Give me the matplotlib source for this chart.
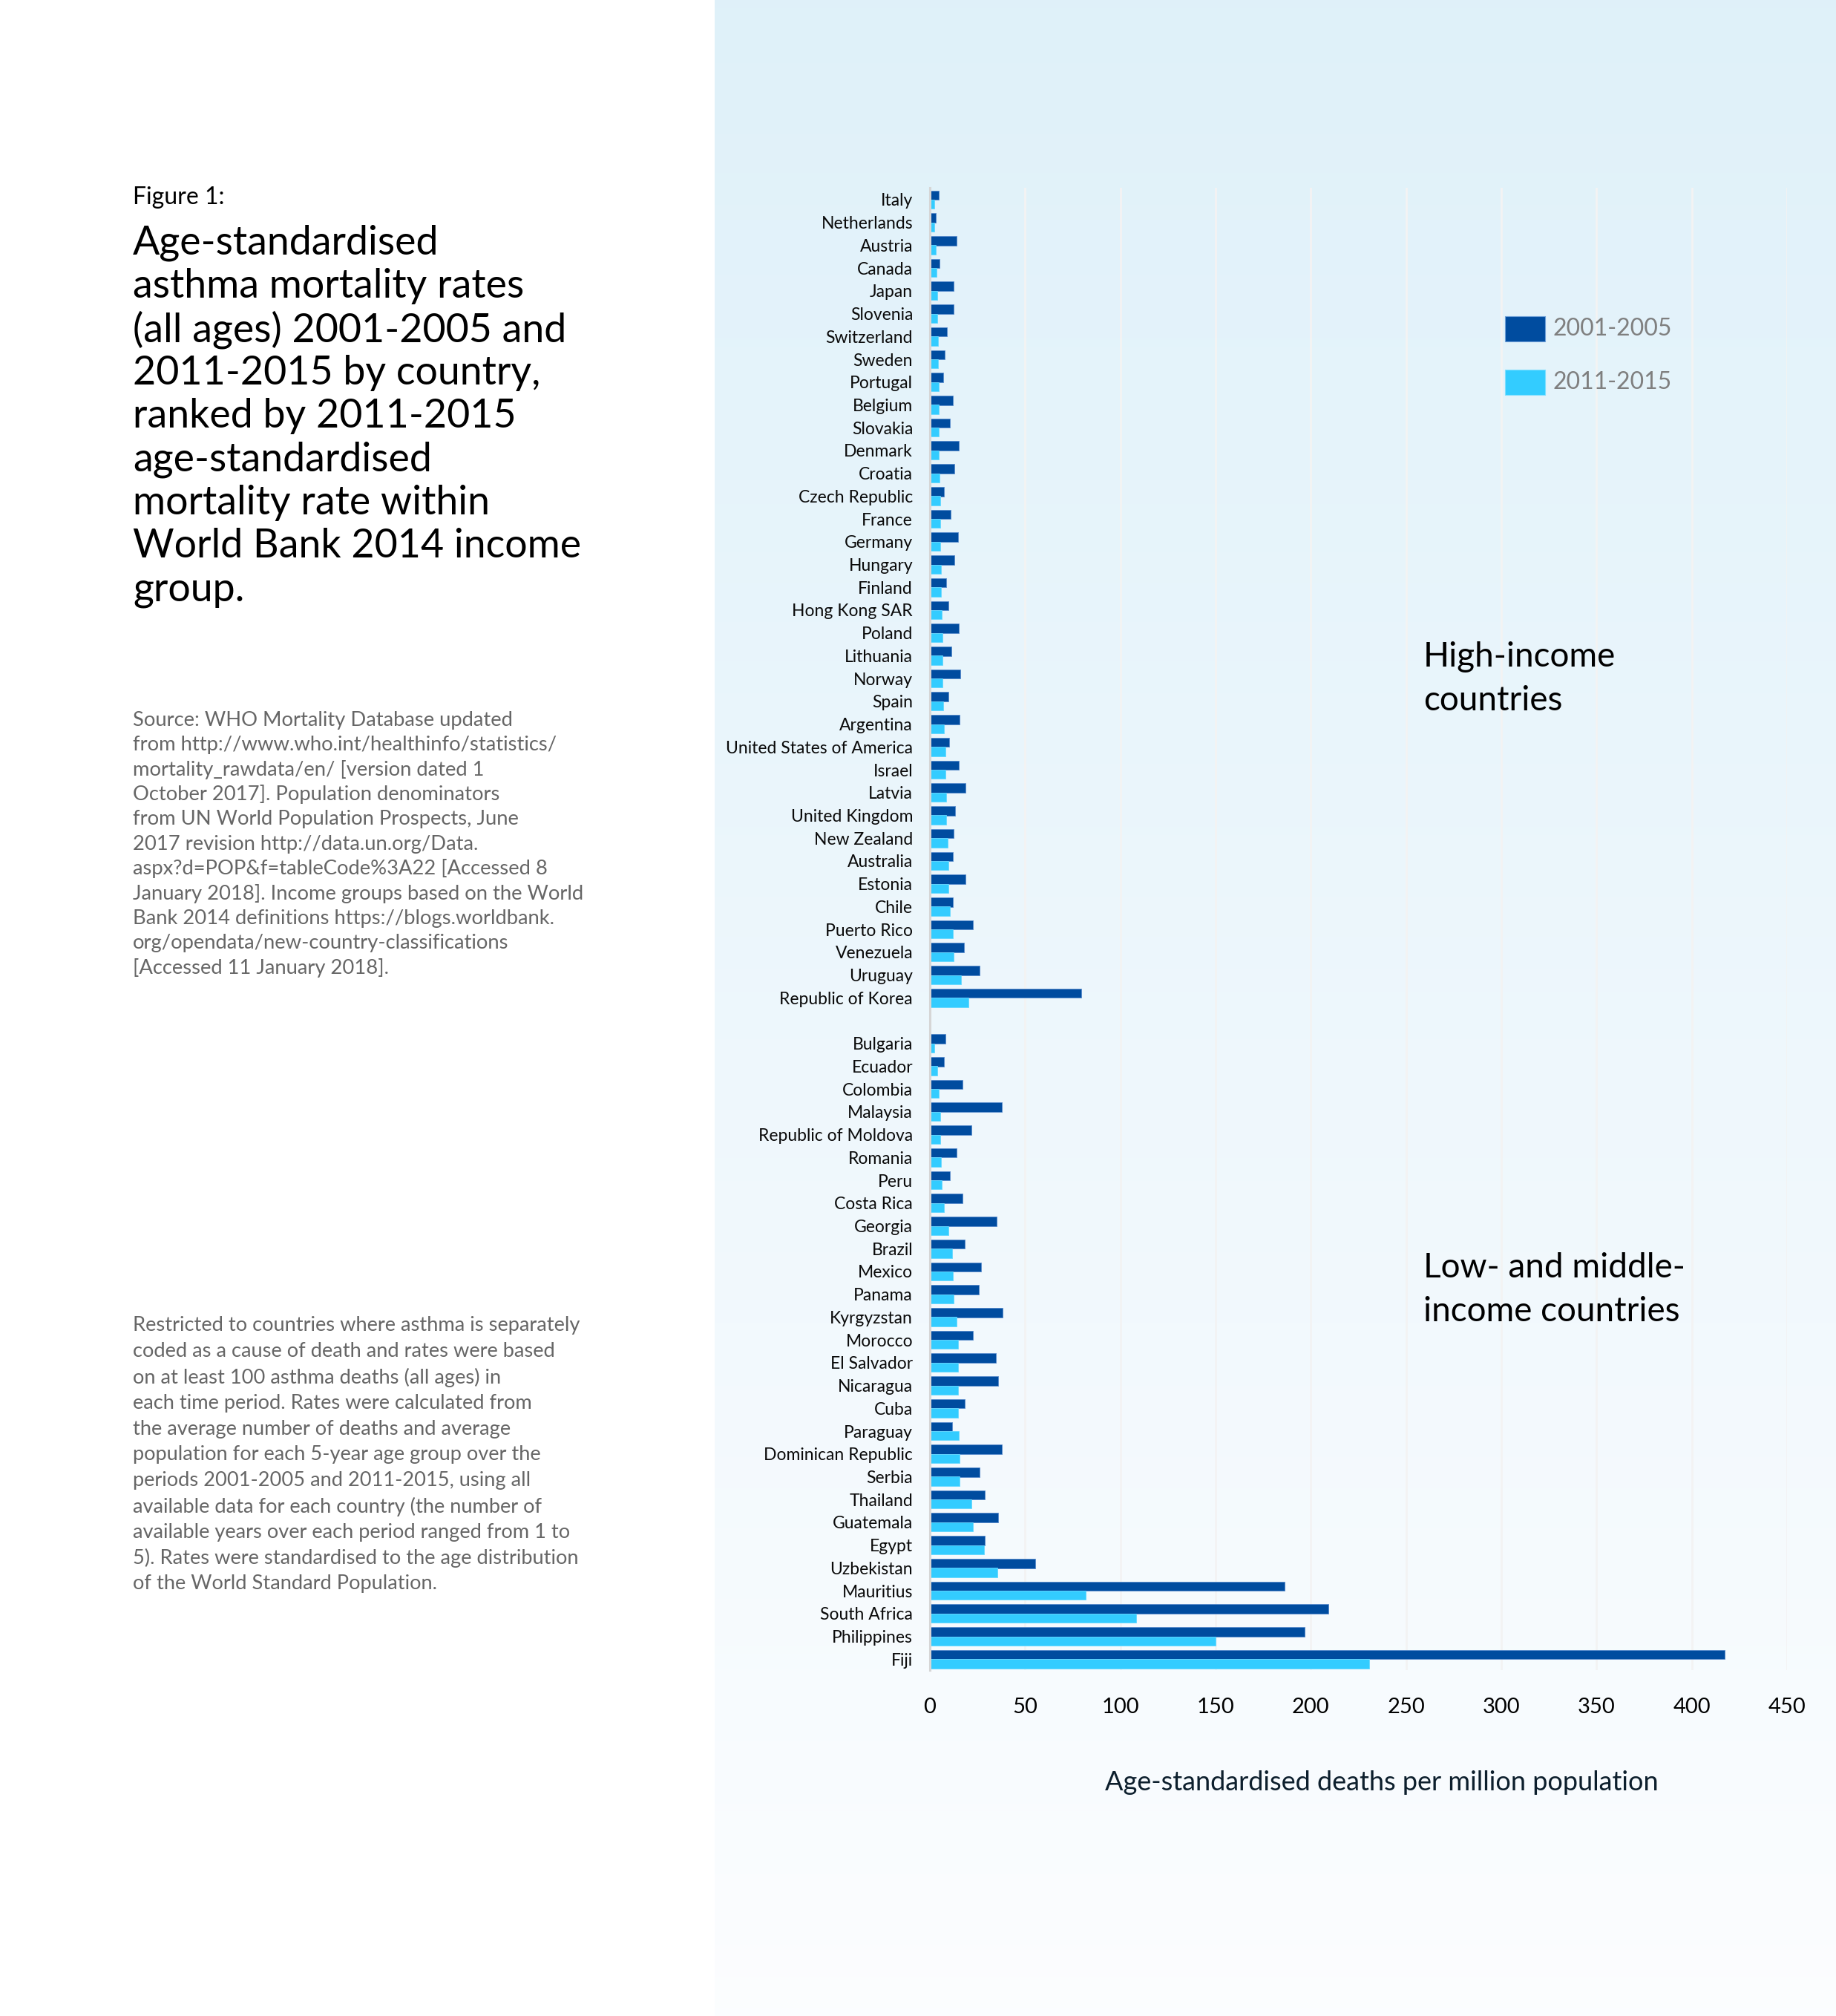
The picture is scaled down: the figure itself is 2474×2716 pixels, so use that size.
import numpy as np
import matplotlib.pyplot as plt

W, H = 2474, 2716

# ---- data ----
high_countries = ['Italy', 'Netherlands', 'Austria', 'Canada', 'Japan', 'Slovenia',
                  'Switzerland', 'Sweden', 'Portugal', 'Belgium', 'Slovakia', 'Denmark',
                  'Croatia', 'Czech Republic', 'France', 'Germany', 'Hungary', 'Finland',
                  'Hong Kong SAR', 'Poland', 'Lithuania', 'Norway', 'Spain', 'Argentina',
                  'United States of America', 'Israel', 'Latvia', 'United Kingdom',
                  'New Zealand', 'Australia', 'Estonia', 'Chile', 'Puerto Rico',
                  'Venezuela', 'Uruguay', 'Republic of Korea']
high_2001 = [4.8, 3.2, 13.9, 5.2, 12.3, 12.5, 8.8, 7.8, 7.1, 12.2, 10.6, 15.1,
             12.7, 7.4, 11.0, 14.9, 12.7, 8.7, 9.6, 15.2, 11.2, 15.8, 9.6, 15.6,
             10.3, 15.1, 18.8, 13.2, 12.5, 12.2, 18.6, 11.9, 22.7, 17.8, 26.0, 79.6]
high_2011 = [2.2, 2.5, 3.2, 3.4, 3.8, 4.0, 4.2, 4.3, 4.5, 4.8, 4.8, 4.8,
             5.2, 5.3, 5.5, 5.6, 5.7, 5.8, 6.1, 6.5, 6.6, 6.6, 7.0, 7.5,
             8.1, 8.3, 8.6, 8.6, 9.2, 9.6, 9.9, 10.4, 12.1, 12.5, 16.4, 20.1]

low_countries = ['Bulgaria', 'Ecuador', 'Colombia', 'Malaysia', 'Republic of Moldova',
                 'Romania', 'Peru', 'Costa Rica', 'Georgia', 'Brazil', 'Mexico', 'Panama',
                 'Kyrgyzstan', 'Morocco', 'El Salvador', 'Nicaragua', 'Cuba', 'Paraguay',
                 'Dominican Republic', 'Serbia', 'Thailand', 'Guatemala', 'Egypt',
                 'Uzbekistan', 'Mauritius', 'South Africa', 'Philippines', 'Fiji']
low_2001 = [8.1, 7.5, 17.3, 37.8, 21.8, 14.2, 10.5, 17.0, 34.9, 18.4, 27.0, 25.8,
            38.2, 22.7, 34.8, 35.8, 18.3, 11.6, 37.7, 26.2, 28.7, 35.8, 29.0,
            55.4, 186.2, 209.3, 196.7, 417.4]
low_2011 = [2.2, 4.0, 4.7, 5.6, 5.6, 6.0, 6.1, 7.5, 9.6, 11.7, 12.1, 12.5,
            13.9, 14.7, 14.7, 14.9, 14.9, 15.2, 15.7, 15.7, 21.8, 22.5, 28.4,
            35.6, 82.0, 108.4, 150.0, 230.5]

series_names = ['2001-2005', '2011-2015']
xticks = [0, 50, 100, 150, 200, 250, 300, 350, 400, 450]

title_lines = ['Age-standardised', 'asthma mortality rates', '(all ages) 2001-2005 and',
               '2011-2015 by country,', 'ranked by 2011-2015', 'age-standardised',
               'mortality rate within', 'World Bank 2014 income', 'group.']
source_lines = ['Source: WHO Mortality Database updated',
                'from http://www.who.int/healthinfo/statistics/',
                'mortality_rawdata/en/ [version dated 1',
                'October 2017]. Population denominators',
                'from UN World Population Prospects, June',
                '2017 revision http://data.un.org/Data.',
                'aspx?d=POP&f=tableCode%3A22 [Accessed 8',
                'January 2018]. Income groups based on the World',
                'Bank 2014 definitions https://blogs.worldbank.',
                'org/opendata/new-country-classifications',
                '[Accessed 11 January 2018].']
note_lines = ['Restricted to countries where asthma is separately',
              'coded as a cause of death and rates were based',
              'on at least 100 asthma deaths (all ages) in',
              'each time period. Rates were calculated from',
              'the average number of deaths and average',
              'population for each 5-year age group over the',
              'periods 2001-2005 and 2011-2015, using all',
              'available data for each country (the number of',
              'available years over each period ranged from 1 to',
              '5). Rates were standardised to the age distribution',
              'of the World Standard Population.']

DARK = '#004c9f'
LIGHT = '#33ccff'
FONT = 'Lato'
plt.rcParams['font.family'] = [FONT, 'DejaVu Sans']


def fx(px):
    return px / W


def fy(py):
    return 1 - py / H


fig = plt.figure(figsize=(W / 100, H / 100), dpi=100)
fig.patch.set_facecolor('white')

# gradient panel on the right
bg = fig.add_axes([fx(963), 0, 1 - fx(963), 1])
top = np.array([0.875, 0.945, 0.978])
bot = np.array([0.988, 0.993, 1.0])
t = np.linspace(0, 1, 256)[:, None]
grad = top[None, :] * (1 - t) + bot[None, :] * t
bg.imshow(grad[:, None, :], aspect='auto', extent=[0, 1, 0, 1])
bg.set_axis_off()

# ---- chart ----
ax = fig.add_axes([fx(1253), fy(2250), fx(2408 - 1253), (2250 - 253) / H])
ax.patch.set_alpha(0)

countries = high_countries + low_countries
v2001 = np.array(high_2001 + low_2001)
v2011 = np.array(high_2011 + low_2011)
ypos = np.array(list(range(len(high_countries))) +
                [len(high_countries) + 1 + i for i in range(len(low_countries))])

ax.barh(ypos - 0.2, v2001, height=0.41, color=DARK, edgecolor='#5a8ccc',
        linewidth=0.6, label=series_names[0], zorder=3)
ax.barh(ypos + 0.2, v2011, height=0.40, color=LIGHT, edgecolor='#66d8ff',
        linewidth=0.6, label=series_names[1], zorder=3)

ax.set_xlim(0, 450)
ax.set_ylim(ypos[-1] + 0.48, -0.52)
ax.set_yticks(ypos)
ax.set_yticklabels(countries, fontsize=16.5, color='#0a0a0a')
ax.set_xticks(xticks)
ax.set_xticklabels([str(v) for v in xticks], fontsize=21, color='#000000')
ax.tick_params(axis='y', length=0, pad=16.5)
ax.tick_params(axis='x', length=0, pad=27)
ax.grid(axis='x', color='#f3f3f3', linewidth=2, zorder=0)
ax.set_axisbelow(True)
for s in ['top', 'right', 'bottom']:
    ax.spines[s].set_visible(False)
ax.spines['left'].set_color('#d6d6d6')
ax.spines['left'].set_linewidth(2.2)
ax.spines['left'].set_zorder(4)

fig.text(fx(1862), fy(2401), 'Age-standardised deaths per million population',
         fontsize=26, color='#0d1f2d', ha='center', va='center')

# legend
for i, (name, col) in enumerate(zip(series_names, [DARK, LIGHT])):
    y0 = 426 + i * 72
    fig.patches.append(plt.Rectangle((fx(2028), fy(y0 + 34)), fx(54), 34 / H,
                                     transform=fig.transFigure, facecolor=col,
                                     edgecolor='#6fa0d8' if i == 0 else '#7fdfff',
                                     linewidth=0.8))
    fig.text(fx(2093), fy(y0 + 17), name, fontsize=23, color='#7f7f7f',
             ha='left', va='center')

# group labels
for lines, y0 in [(['High-income', 'countries'], 885),
                  (['Low- and middle-', 'income countries'], 1708)]:
    for k, ln in enumerate(lines):
        fig.text(fx(1918), fy(y0 + k * 59), ln, fontsize=33, color='#000000',
                 ha='left', va='center')

# ---- left panel text ----
fig.text(fx(179), fy(266), 'Figure 1:', fontsize=23, color='#000000',
         ha='left', va='center')
for k, ln in enumerate(title_lines):
    fig.text(fx(179), fy(327 + k * 58.4), ln, fontsize=38.7, color='#000000',
             ha='left', va='center')
for k, ln in enumerate(source_lines):
    fig.text(fx(179), fy(970 + k * 33.4), ln, fontsize=19.7, color='#666666',
             ha='left', va='center')
for k, ln in enumerate(note_lines):
    fig.text(fx(179), fy(1786 + k * 34.8), ln, fontsize=19.6, color='#666666',
             ha='left', va='center')

fig.savefig('out.png', dpi=100)
